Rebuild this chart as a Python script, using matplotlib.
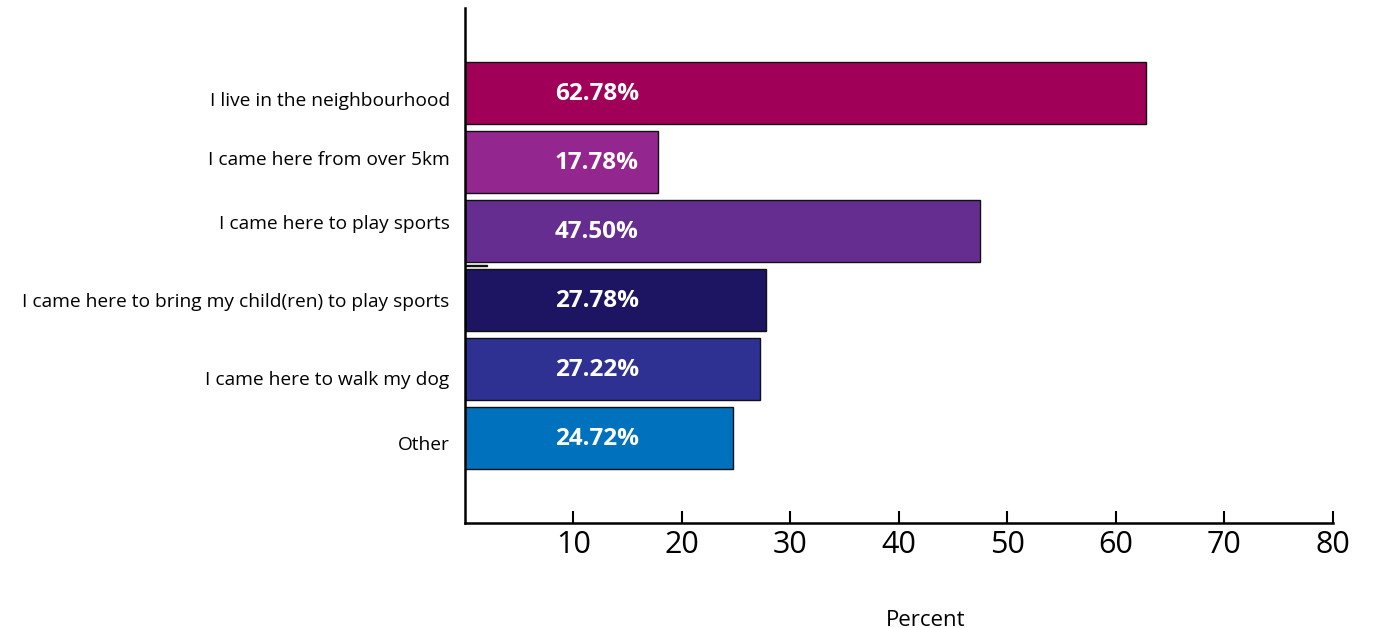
import numpy as np
import matplotlib
matplotlib.use("Agg")
import matplotlib.pyplot as plt

plt.rcParams['font.family'] = ['Open Sans', 'DejaVu Sans']

categories = [
    "I live in the neighbourhood",
    "I came here from over 5km",
    "I came here to play sports",
    "I came here to bring my child(ren) to play sports",
    "I came here to walk my dog",
    "Other",
]
percent = [62.78, 17.78, 47.50, 27.78, 27.22, 24.72]
colors = ["#A10058", "#93278F", "#662D91", "#1D1462", "#2E3192", "#0071BC"]
xticks = [10, 20, 30, 40, 50, 60, 70, 80]
# category labels sit a little off the bar centres in the original
label_shift = [0.09, -0.06, -0.13, 0.0, 0.13, 0.07]

fig = plt.figure(figsize=(13.78, 6.28), dpi=100)
ax = fig.add_axes([0.3374, 0.1672, 0.6299, 0.8201])

ypos = np.arange(len(categories))
ax.barh(ypos, percent, height=0.9, color=colors, edgecolor="#111111", linewidth=1)

# stray little mark between the sports bars
ax.barh(2.5, 2.0, height=0.02, color="#111111", edgecolor="#111111", linewidth=1)

for y, v in zip(ypos, percent):
    ax.text(8.3, y + 0.02, "%.2f%%" % v, color="white", fontsize=17.5, fontweight="bold",
            ha="left", va="center")

ax.set_ylim(5 + 1.23, -1.23)
ax.set_xlim(0, 80)
ax.set_yticks(ypos + np.array(label_shift))
ax.set_yticklabels(categories, fontsize=13.8)
ax.set_xticks(xticks)
ax.set_xticklabels([str(t) for t in xticks], fontsize=22)
ax.tick_params(axis="y", length=0, pad=11)
ax.tick_params(axis="x", direction="in", length=9, width=1.5, pad=5)

for s in ["top", "right"]:
    ax.spines[s].set_visible(False)
ax.spines["left"].set_linewidth(1.8)
ax.spines["bottom"].set_linewidth(1.8)

ax.set_xlabel("Percent", fontsize=16)
ax.xaxis.set_label_coords((926 - 465) / 868, -0.168)

fig.savefig("out.png", dpi=100)
